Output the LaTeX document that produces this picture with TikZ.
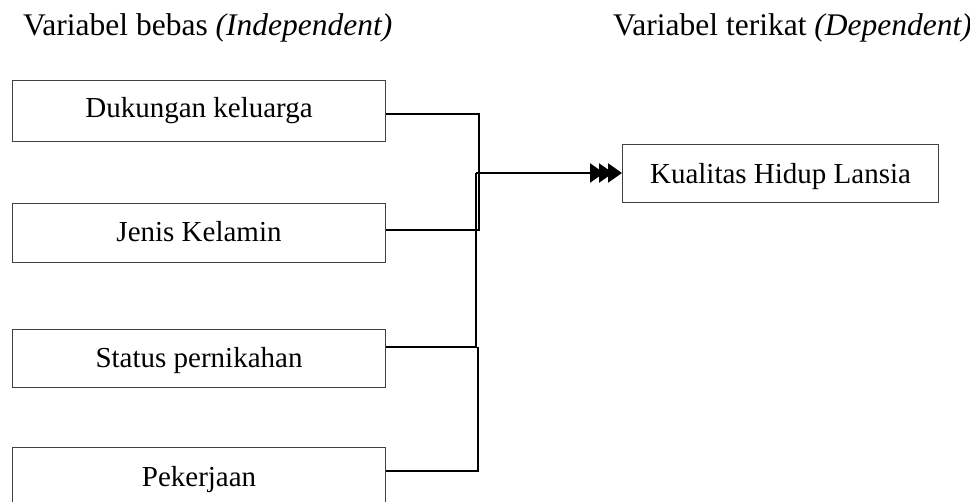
\documentclass[tikz,border=0pt]{standalone}
\usepackage{fontspec}
\setmainfont{Liberation Serif}
\usetikzlibrary{arrows.meta}
\begin{document}
\begin{tikzpicture}[x=1pt,y=-1pt,
  box/.style={draw=black!75,line width=1.1pt,inner sep=0pt,anchor=north west,
    font=\fontsize{29}{34}\selectfont,text height=22pt,text depth=5pt},
  title/.style={anchor=base west,inner sep=0pt,font=\fontsize{31.5}{36}\selectfont},
  conn/.style={line width=2.2pt,black}]
\useasboundingbox (0,0) rectangle (970,502);
\clip (0,0) rectangle (970,502);
\node[title] (t1) at (23,36) {Variabel bebas \textit{(Independent)}};
\node[title] (t2) at (613,36) {Variabel terikat \textit{(Dependent)}};
\node[box,minimum width=373pt,minimum height=61pt,text height=20pt,text depth=7pt] (b1) at (12,80) {Dukungan keluarga};
\node[box,minimum width=373pt,minimum height=59pt] (b2) at (12,203) {Jenis Kelamin};
\node[box,minimum width=373pt,minimum height=58pt] (b3) at (12,329) {Status pernikahan};
\node[box,minimum width=373pt,minimum height=61pt] (b4) at (12,447) {Pekerjaan};
\node[box,minimum width=316pt,minimum height=58pt,text height=25pt,text depth=5pt] (out) at (622,144) {Kualitas Hidup Lansia};
\coordinate (j1) at (479,114);
\coordinate (j2) at (479,230);
\coordinate (h) at (476,173);
\coordinate (j3) at (476,347);
\coordinate (j4) at (478,347);
\coordinate (j5) at (478,471);
\draw[conn] (b1.east |- j1) -- (j1) -- (j2) -- (b2.east |- j2);
\draw[conn] (h) -- (j3) -- (b3.east |- j3);
\draw[conn] (j4) -- (j5) -- (b4.east |- j5);
\draw[conn,-{Triangle[length=14pt,width=19pt,sep=-5pt]Triangle[length=14pt,width=19pt,sep=-5pt]Triangle[length=14pt,width=19pt]}] (h) -- (out.west |- h);
\end{tikzpicture}
\end{document}
